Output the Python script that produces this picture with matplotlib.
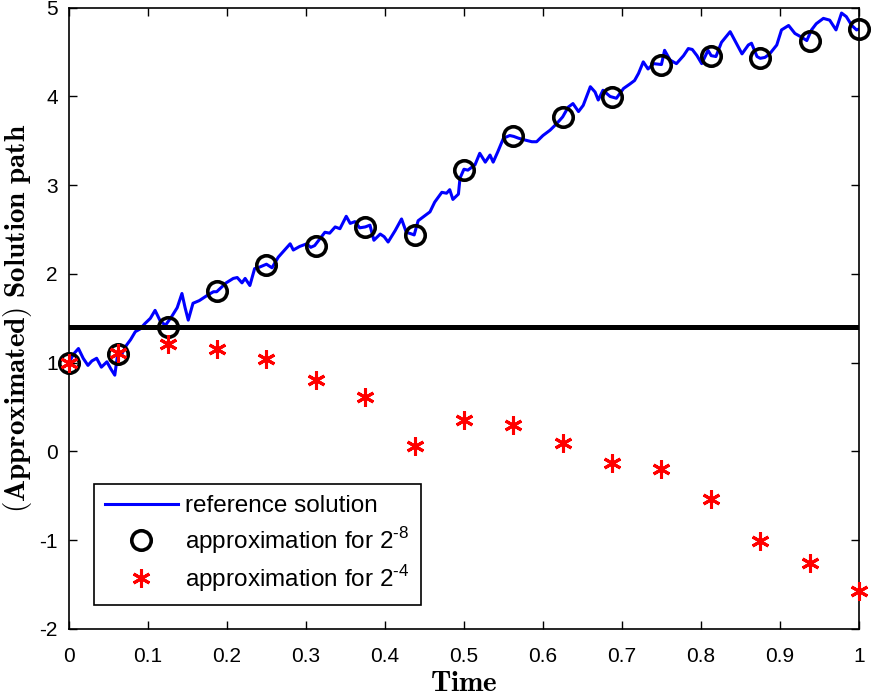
import numpy as np
import matplotlib
matplotlib.use('Agg')
from matplotlib import pyplot as plt

plt.rcParams['font.family'] = ['Liberation Sans', 'DejaVu Sans']
plt.rcParams['mathtext.fontset'] = 'custom'
plt.rcParams['mathtext.rm'] = 'Liberation Sans'
plt.rcParams['axes.unicode_minus'] = False

# ------------------- data -------------------
t_ref = [0.000, 0.006, 0.012, 0.018, 0.024, 0.029, 0.035, 0.041, 0.048, 0.053,
         0.058, 0.062, 0.067, 0.073, 0.078, 0.084, 0.090, 0.096, 0.103, 0.109,
         0.115, 0.122, 0.130, 0.137, 0.143, 0.147, 0.151, 0.157, 0.165, 0.172,
         0.177, 0.183, 0.187, 0.193, 0.199, 0.208, 0.213, 0.219, 0.223, 0.229,
         0.235, 0.242, 0.250, 0.257, 0.265, 0.273, 0.280, 0.284, 0.292, 0.301,
         0.306, 0.311, 0.318, 0.324, 0.330, 0.337, 0.343, 0.351, 0.356, 0.362,
         0.368, 0.375, 0.381, 0.386, 0.394, 0.399, 0.404, 0.413, 0.421, 0.427,
         0.434, 0.437, 0.442, 0.451, 0.457, 0.463, 0.472, 0.478, 0.482, 0.486,
         0.493, 0.495, 0.500, 0.505, 0.514, 0.520, 0.527, 0.533, 0.537, 0.543,
         0.550, 0.558, 0.563, 0.569, 0.577, 0.586, 0.592, 0.600, 0.609, 0.617,
         0.625, 0.632, 0.638, 0.645, 0.651, 0.660, 0.666, 0.670, 0.676, 0.685,
         0.693, 0.702, 0.710, 0.716, 0.721, 0.727, 0.733, 0.740, 0.750, 0.754,
         0.761, 0.769, 0.778, 0.784, 0.789, 0.795, 0.801, 0.809, 0.813, 0.819,
         0.826, 0.837, 0.843, 0.852, 0.860, 0.864, 0.871, 0.875, 0.881, 0.887,
         0.896, 0.902, 0.911, 0.919, 0.927, 0.934, 0.940, 0.946, 0.955, 0.963,
         0.971, 0.978, 0.984, 0.991, 0.997, 1.000]
y_ref = [1.00, 1.10, 1.16, 1.05, 0.97, 1.02, 1.05, 0.95, 1.01, 0.93,
         0.86, 1.12, 1.10, 1.20, 1.26, 1.35, 1.38, 1.44, 1.50, 1.59,
         1.48, 1.42, 1.52, 1.62, 1.78, 1.62, 1.48, 1.67, 1.70, 1.74,
         1.77, 1.80, 1.80, 1.85, 1.90, 1.95, 1.96, 1.90, 1.95, 1.87,
         2.06, 2.08, 2.11, 2.07, 2.19, 2.27, 2.34, 2.27, 2.31, 2.34,
         2.30, 2.32, 2.40, 2.47, 2.46, 2.53, 2.51, 2.65, 2.57, 2.59,
         2.52, 2.53, 2.55, 2.38, 2.45, 2.42, 2.36, 2.49, 2.62, 2.47,
         2.45, 2.44, 2.60, 2.66, 2.70, 2.81, 2.92, 2.91, 2.95, 2.84,
         2.90, 3.08, 3.18, 3.17, 3.23, 3.36, 3.26, 3.34, 3.26, 3.38,
         3.53, 3.56, 3.55, 3.53, 3.51, 3.49, 3.49, 3.56, 3.62, 3.69,
         3.77, 3.88, 3.92, 3.83, 3.90, 4.11, 4.05, 3.96, 4.07, 4.00,
         3.98, 4.09, 4.14, 4.18, 4.26, 4.39, 4.31, 4.37, 4.36, 4.52,
         4.41, 4.37, 4.46, 4.54, 4.53, 4.46, 4.37, 4.52, 4.46, 4.45,
         4.61, 4.73, 4.63, 4.48, 4.58, 4.60, 4.45, 4.43, 4.44, 4.48,
         4.58, 4.75, 4.80, 4.71, 4.67, 4.63, 4.75, 4.82, 4.88, 4.86,
         4.75, 4.94, 4.90, 4.80, 4.75, 4.76]

# coarse grids: step 2^-4 in time
t_coarse = np.arange(17) / 16
y_fine = [1.00, 1.10, 1.40, 1.81, 2.10, 2.32, 2.53, 2.44, 3.17,
          3.55, 3.77, 3.99, 4.36, 4.46, 4.43, 4.62, 4.76]
y_coarse = [1.00, 1.11, 1.21, 1.16, 1.04, 0.80, 0.61, 0.06, 0.36,
            0.30, 0.09, -0.13, -0.20, -0.54, -1.01, -1.26, -1.57]
level = 1.40

# ------------------- plot -------------------
fig = plt.figure(figsize=(8.72, 6.96), dpi=100)
ax = fig.add_axes([0.0791, 0.0963, 0.9059, 0.8926])

ax.plot(t_ref, y_ref, color='#0000ff', lw=2.2, label='reference solution', zorder=2)
ax.plot([0, 1], [level, level], color='k', lw=3.6, zorder=3)
ax.plot(t_coarse, y_fine, 'o', color='k', mfc='none', ms=14, mew=2.6, clip_on=False,
        label=r'approximation for 2$^{\text{-8}}$', zorder=4)
ax.plot(t_coarse, y_coarse, ls='none', marker=(6, 2, 0), color='r', ms=13, mew=2.2,
        clip_on=False, label=r'approximation for 2$^{\text{-4}}$', zorder=5)

ax.set_xlim(0, 1)
ax.set_ylim(-2, 5)
ax.set_xticks(np.arange(0, 1.01, 0.1))
ax.set_xticklabels(['0', '0.1', '0.2', '0.3', '0.4', '0.5', '0.6', '0.7', '0.8', '0.9', '1'])
ax.set_yticks(range(-2, 6))
ax.tick_params(axis='both', direction='in', top=True, right=True, length=6, width=1,
               labelsize=15)
ax.tick_params(axis='x', pad=13)
ax.tick_params(axis='y', pad=8)
for s in ax.spines.values():
    s.set_linewidth(1.2)

ax.set_xlabel(r'$\mathbf{Time}$', fontsize=21, labelpad=2, math_fontfamily='cm')
ax.set_ylabel(r'$\mathbf{(Approximated)\ Solution\ path}$', fontsize=21, labelpad=4,
              math_fontfamily='cm')

leg = ax.legend(loc='lower left', bbox_to_anchor=(0.0316, 0.0386), borderaxespad=0,
                fontsize=17.5, fancybox=False, framealpha=1, edgecolor='k',
                handlelength=3.0, handletextpad=0.3, labelspacing=0.31, borderpad=0.45)
leg.get_frame().set_linewidth(1.2)

plt.savefig('out.png', dpi=100)
